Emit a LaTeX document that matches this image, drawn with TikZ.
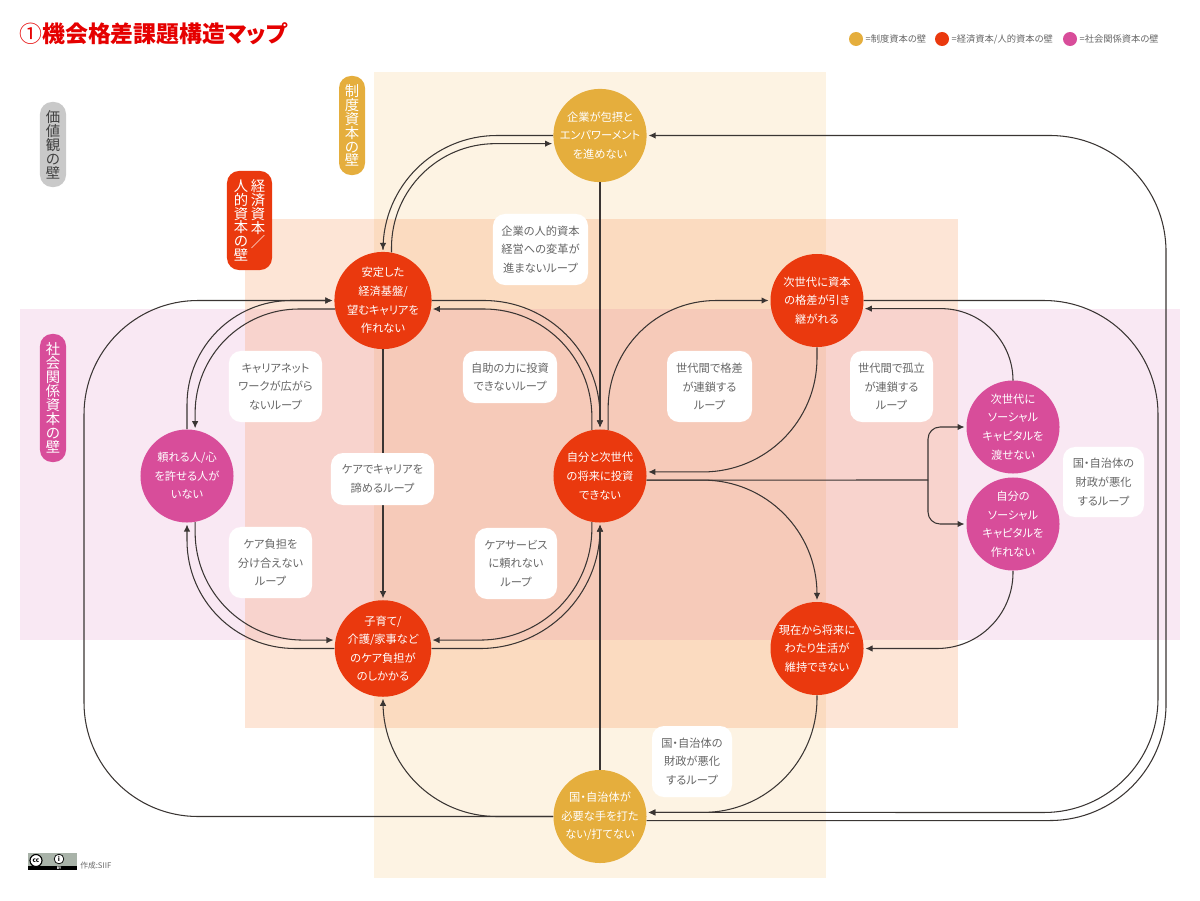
\documentclass[tikz,border=0pt]{standalone}
\usepackage{fontspec}
\setmainfont{Noto Sans CJK JP}[RawFeature=+palt]
\usetikzlibrary{arrows.meta, positioning}

\definecolor{wallyellow}{HTML}{E5AE3D}
\definecolor{wallred}{HTML}{EA390E}
\definecolor{wallpink}{HTML}{D84D9A}
\definecolor{wallgray}{HTML}{C9C9C9}
\definecolor{bandyellow}{HTML}{F2AF44}
\definecolor{bandorange}{HTML}{F57D32}
\definecolor{bandpink}{HTML}{D14EA3}
\definecolor{inkline}{HTML}{3A3533}
\definecolor{inktext}{HTML}{666666}
\definecolor{badgegray}{HTML}{A9B3A9}

\tikzset{
	issue/.style={circle, minimum size=2.325cm, inner sep=0pt, text=white, align=center,
		font=\fontsize{8}{13.2}\selectfont},
	looplabel/.style={fill=white, rounded corners=.3cm, text=inktext, align=center, inner sep=0pt,
		font=\fontsize{8}{13.2}\selectfont},
	wallpill/.style={rounded corners=.3cm, inner sep=0pt, minimum width=.65cm, align=center, text=white,
		font=\fontsize{10.2}{9.9}\selectfont},
	legenddot/.style={circle, minimum size=.35cm, inner sep=0pt},
	legendtext/.style={inner sep=0pt, text=inktext, font=\fontsize{6.6}{8}\selectfont},
	link/.style={draw=inkline, line width=.75pt, shorten >=1.2pt, -{Latex[length=5pt,width=4.6pt]}},
	plainlink/.style={draw=inkline, line width=.75pt}
}

\begin{document}
\begin{tikzpicture}[x=.025cm, y=-.025cm]
	\useasboundingbox (0,0) rectangle (1200,900);

	% bands of the three walls
	\fill[bandyellow, opacity=.15] (374,72) rectangle (826,878);
	\fill[bandpink, opacity=.13] (20,309) rectangle (1180,640);
	\fill[bandorange, opacity=.2] (245,219) rectangle (958,728);

	\node[anchor=west, inner sep=0pt, text=red!90!black, font=\fontsize{16.3}{18}\selectfont\bfseries] (title) at (19,34) {{\mdseries ①}機会格差課題構造マップ};

	\node[legenddot, fill=wallyellow] (dotinst) at (856,39) {};
	\node[legendtext, right=1.5pt of dotinst] (txtinst) {=制度資本の壁};
	\node[legenddot, fill=wallred] (dotecon) at (942,39) {};
	\node[legendtext, right=1.5pt of dotecon] (txtecon) {=経済資本/人的資本の壁};
	\node[legenddot, fill=wallpink] (dotsocial) at (1070,39) {};
	\node[legendtext, right=1.5pt of dotsocial] (txtsocial) {=社会関係資本の壁};

	\node[wallpill, fill=wallgray, text=black!75, minimum height=2.125cm] (wallvalue) at (53,144.5) {価\\値\\観\\の\\壁};
	\node[wallpill, fill=wallyellow, minimum height=2.475cm] (wallinst) at (352,125.5) {制\\度\\資\\本\\の\\壁};
	\node[wallpill, fill=wallpink, minimum height=3.2cm] (wallsocial) at (53,398) {社\\会\\関\\係\\資\\本\\の\\壁};
	\node[wallpill, fill=wallred, minimum width=1.125cm, minimum height=2.475cm] (wallecon) at (249.5,220.5) {};
	\node[wallpill] (wallecona) at (258,214) {経\\済\\資\\本\\／};
	\node[wallpill] (walleconb) at (241,220.5) {人\\的\\資\\本\\の\\壁};

	\node[issue, fill=wallyellow] (enterprise) at (600,135.5) {企業が包摂と\\エンパワーメント\\を進めない};
	\node[issue, fill=wallred] (stable) at (383,300.5) {安定した\\経済基盤/\\望むキャリアを\\作れない};
	\node[issue, fill=wallred] (nextgap) at (817,300.5) {次世代に資本\\の格差が引き\\継がれる};
	\node[issue, fill=wallpink] (trusted) at (187,476) {頼れる人/心\\を許せる人が\\いない};
	\node[issue, fill=wallred] (invest) at (600,476) {自分と次世代\\の将来に投資\\できない};
	\node[issue, fill=wallpink] (passon) at (1013,427) {次世代に\\ソーシャル\\キャピタルを\\渡せない};
	\node[issue, fill=wallpink] (makeown) at (1013,524) {自分の\\ソーシャル\\キャピタルを\\作れない};
	\node[issue, fill=wallred] (careload) at (383,648.5) {子育て/\\介護/家事など\\のケア負担が\\のしかかる};
	\node[issue, fill=wallred] (livelihood) at (817,648.5) {現在から将来に\\わたり生活が\\維持できない};
	\node[issue, fill=wallyellow] (state) at (600,816.5) {国・自治体が\\必要な手を打た\\ない/打てない};

	\coordinate (farleft) at (84,300.5);
	\coordinate (farout) at (1166,820.5);
	\coordinate (farin) at (1158,812.5);
	\coordinate (split) at (928,480);

	\draw[link, rounded corners=2.85cm] (enterprise.west) -| (stable.north);
	\draw[link, rounded corners=2.6cm] (stable.80) |- (enterprise.190);
	\draw[link, rounded corners=2.9cm] (state.-5) -- (farout) |- (enterprise.east);
	\draw[link, rounded corners=2.85cm] (nextgap.east) -| (farin) -- (state.5);
	\draw[link, rounded corners=2.85cm] (state.west) -| (farleft) -- (stable.west);
	\draw[link, rounded corners=2.85cm] (state.west) -| (careload.south);
	\draw[link] (state.north) -- (invest.south);
	\draw[link] (enterprise.south) -- (invest.north);
	\draw[link] (stable.south) -- (careload.north);

	\draw[link, rounded corners=2.9cm] (stable.east) -| (invest.north);
	\draw[link, rounded corners=2.7cm] (invest.100) |- (stable.-10);
	\draw[link, rounded corners=2.7cm] (invest.80) |- (nextgap.west);
	\draw[link, rounded corners=2.85cm] (nextgap.south) |- (invest.5);
	\draw[link, rounded corners=2.85cm] (invest.-5) -| (livelihood.north);
	\draw[plainlink] (invest.-5) -- (split);
	\draw[link, rounded corners=.3cm] (split) |- (passon.west);
	\draw[link, rounded corners=.3cm] (split) |- (makeown.west);
	\draw[link, rounded corners=1.8cm] (passon.north) |- (nextgap.-10);
	\draw[link, rounded corners=1.9cm] (makeown.south) |- (livelihood.east);
	\draw[link, rounded corners=2.85cm] (livelihood.south) |- (state.5);

	\draw[link, rounded corners=2.6cm] (trusted.north) |- (stable.west);
	\draw[link, rounded corners=2.6cm] (stable.190) -| (trusted.80);
	\draw[link, rounded corners=2.7cm] (trusted.-80) |- (careload.170);
	\draw[link, rounded corners=2.7cm] (careload.west) -| (trusted.south);
	\draw[link, rounded corners=2.8cm] (invest.-100) |- (careload.10);
	\draw[link, rounded corners=3cm] (careload.east) -| (invest.south);

	\node[looplabel, minimum width=2.375cm, minimum height=1.775cm] (lpreform) at (540.5,249.5) {企業の人的資本\\経営への変革が\\進まないループ};
	\node[looplabel, minimum width=2.325cm, minimum height=1.775cm] (lpnetwork) at (275.5,386.5) {キャリアネット\\ワークが広がら\\ないループ};
	\node[looplabel, minimum width=2.575cm, minimum height=1.3cm] (lpgiveup) at (382.5,479) {ケアでキャリアを\\諦めるループ};
	\node[looplabel, minimum width=2.075cm, minimum height=1.775cm] (lpshare) at (270.5,562.5) {ケア負担を\\分け合えない\\ループ};
	\node[looplabel, minimum width=2.35cm, minimum height=1.3cm] (lpself) at (510,377) {自助の力に投資\\できないループ};
	\node[looplabel, minimum width=2.125cm, minimum height=1.775cm] (lpgap) at (709.5,386.5) {世代間で格差\\が連鎖する\\ループ};
	\node[looplabel, minimum width=2.05cm, minimum height=1.775cm] (lpservice) at (516,563.5) {ケアサービス\\に頼れない\\ループ};
	\node[looplabel, minimum width=2.075cm, minimum height=1.775cm] (lpisolate) at (891.5,386.5) {世代間で孤立\\が連鎖する\\ループ};
	\node[looplabel, minimum width=2.025cm, minimum height=1.75cm] (lpfiscal) at (1103.5,482) {国・自治体の\\財政が悪化\\するループ};
	\node[looplabel, minimum width=2cm, minimum height=1.775cm] (lpfiscalb) at (692,761.5) {国・自治体の\\財政が悪化\\するループ};

	% licence badge and credit
	\fill[badgegray] (28,853) rectangle (77,870);
	\fill[black] (28,866) rectangle (77,870);
	\node[circle, draw=black, line width=.8pt, fill=white, minimum size=.3cm, inner sep=0pt, font=\fontsize{4.5}{4.5}\selectfont\bfseries] (ccmark) at (36,860.5) {cc};
	\node[circle, draw=black, line width=.5pt, fill=white, minimum size=.24cm, inner sep=0pt, font=\fontsize{4.5}{4.5}\selectfont\bfseries] (bymark) at (59,859) {i};
	\node[inner sep=0pt, text=white, font=\fontsize{2.5}{3}\selectfont\bfseries] (bytext) at (59,868) {BY};
	\node[anchor=west, inner sep=0pt, text=inktext, font=\fontsize{5.5}{6}\selectfont] (credit) at (80,866) {作成:SIIF};
\end{tikzpicture}
\end{document}
